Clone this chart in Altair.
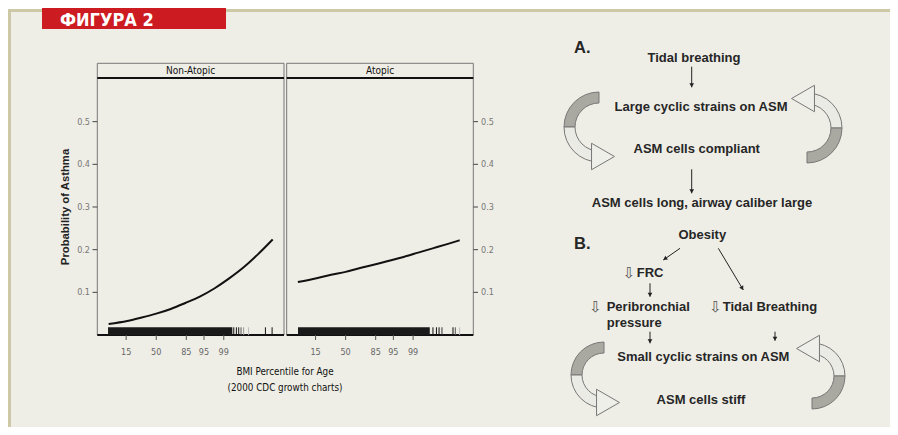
import math
import altair as alt
import pandas as pd

W, H = 882, 419

# ---------------- data ----------------
panels = ["Non-Atopic", "Atopic"]
# BMI z-score (x) and predicted probability of asthma (y)
z_na = [-1.64, -1.0, -0.5, 0.0, 0.5, 1.0, 1.5, 2.0, 2.5, 3.0, 3.5, 4.01]
p_na = [0.026, 0.033, 0.041, 0.050, 0.061, 0.075, 0.090, 0.109, 0.132, 0.158, 0.189, 0.224]
z_at = [-1.645, -1.0, -0.5, 0.0, 0.5, 1.0, 1.5, 2.0, 2.5, 3.0, 3.5, 3.93]
p_at = [0.124, 0.133, 0.141, 0.148, 0.157, 0.165, 0.174, 0.183, 0.193, 0.203, 0.213, 0.222]
# rug: dense band (start, end) and sparse individual ticks
rug_band_na = [-1.66, 2.62]
rug_ticks_na = [2.67, 2.76, 2.84, 2.92, 3.01, 3.18, 3.76, 3.99]
rug_shade_na = ["#111", "#111", "#111", "#555", "#999", "#bbb", "#111", "#111"]
rug_band_at = [-1.64, 2.90]
rug_ticks_at = [3.01, 3.13, 3.22, 3.32, 3.70, 3.78, 3.93]
rug_shade_at = ["#111", "#111", "#111", "#333", "#111", "#555", "#bbb"]
# x axis: BMI percentile labels at their z-score positions
x_tick_labels = ["15", "50", "85", "95", "99"]
x_tick_z = [-1.036, 0.0, 1.036, 1.645, 2.326]
y_tick_vals = [0.1, 0.2, 0.3, 0.4, 0.5]
y_tick_labels = ["0.1", "0.2", "0.3", "0.4", "0.5"]

# ---------------- layout ----------------
FONT_N = "Liberation Sans Narrow, DejaVu Sans Condensed, Liberation Sans, Arial"
FONT = "Liberation Sans, Arial"
DARK = "#262626"

X_DOM = [-2.03, 4.40]
Y_DOM = [0, 0.6023]
PANEL_X = {"Non-Atopic": (89.3, 276.0), "Atopic": (278.7, 465.3)}
STRIP_TOP, STRIP_BOT, PLOT_BOT = 55.3, 70.0, 327.0
SY = alt.Scale(domain=Y_DOM, range=[PLOT_BOT, STRIP_BOT], nice=False, zero=False)


def sx(panel):
    a, b = PANEL_X[panel]
    return alt.Scale(domain=X_DOM, range=[a, b], nice=False, zero=False)


def P(f):
    return alt.X(f, type="quantitative", scale=None, axis=None)


def Q(f):
    return alt.Y(f, type="quantitative", scale=None, axis=None)


layers = []

# background box
bg = pd.DataFrame({"x": [1.5], "y": [2.5], "x2": [W + 30], "y2": [H + 30]})
layers.append(alt.Chart(bg).mark_rect(fill="#efeee6", stroke="#cdc9a6", strokeWidth=3).encode(
    x=P("x"), y=Q("y"), x2="x2", y2="y2"))

# red header
hdr = pd.DataFrame({"x": [34], "y": [0], "x2": [218], "y2": [21]})
layers.append(alt.Chart(hdr).mark_rect(fill="#cc1b21").encode(x=P("x"), y=Q("y"), x2="x2", y2="y2"))
layers.append(alt.Chart(pd.DataFrame({"t": ["ФИГУРА 2"]})).mark_text(
    font=FONT_N, fontWeight="bold", fontSize=18, color="white", align="left", baseline="alphabetic"
).encode(x=alt.value(52), y=alt.value(18), text="t:N"))

# panel frames
frames = pd.DataFrame({
    "x": [PANEL_X[p][0] for p in panels], "x2": [PANEL_X[p][1] for p in panels],
    "y": [STRIP_TOP] * 2, "y2": [PLOT_BOT] * 2})
layers.append(alt.Chart(frames).mark_rect(fill=None, stroke="#777", strokeWidth=1).encode(
    x=P("x"), y=Q("y"), x2="x2", y2="y2"))
for yy in (STRIP_BOT, PLOT_BOT):
    fr = frames.assign(yy=yy)
    layers.append(alt.Chart(fr).mark_rule(color="#111", strokeWidth=2).encode(
        x=P("x"), x2="x2", y=Q("yy")))
strips = pd.DataFrame({"name": panels,
                       "x": [(PANEL_X[p][0] + PANEL_X[p][1]) / 2 for p in panels],
                       "y": [(STRIP_TOP + STRIP_BOT) / 2 + 0.5] * 2})
layers.append(alt.Chart(strips).mark_text(font=FONT_N, fontSize=10, color="#111", baseline="middle").encode(
    x=P("x"), y=Q("y"), text="name:N"))

# data per panel
for panel, zs, ps, band, rt, rs in [
    ("Non-Atopic", z_na, p_na, rug_band_na, rug_ticks_na, rug_shade_na),
    ("Atopic", z_at, p_at, rug_band_at, rug_ticks_at, rug_shade_at),
]:
    X = lambda f: alt.X(f, type="quantitative", scale=sx(panel), axis=None)
    curve = pd.DataFrame({"z": zs, "p": ps})
    layers.append(alt.Chart(curve).mark_line(color="#111", strokeWidth=2, interpolate="monotone").encode(
        x=X("z"), y=alt.Y("p:Q", scale=SY, axis=None)))
    layers.append(alt.Chart(pd.DataFrame({"z0": [band[0]], "z1": [band[1]]})).mark_rect(color="#1a1a1a").encode(
        x=X("z0"), x2="z1", y=alt.value(319.3), y2=alt.value(PLOT_BOT)))
    layers.append(alt.Chart(pd.DataFrame({"z": rt, "c": rs})).mark_rule(strokeWidth=1).encode(
        x=X("z"), y=alt.value(319.3), y2=alt.value(PLOT_BOT), color=alt.Color("c:N", scale=None)))
    ticks = pd.DataFrame({"z": x_tick_z, "lab": x_tick_labels})
    layers.append(alt.Chart(ticks).mark_rule(color="#555", strokeWidth=1).encode(
        x=X("z"), y=alt.value(PLOT_BOT), y2=alt.value(332)))
    layers.append(alt.Chart(ticks).mark_text(font=FONT_N, fontSize=9, color="#666", baseline="middle").encode(
        x=X("z"), y=alt.value(344), text="lab:N"))

# y axes (left of first panel, right of second)
yt = pd.DataFrame({"v": y_tick_vals, "lab": y_tick_labels})
layers.append(alt.Chart(yt).mark_rule(color="#444").encode(
    y=alt.Y("v:Q", scale=SY, axis=None), x=alt.value(84.5), x2=alt.value(89.3)))
layers.append(alt.Chart(yt).mark_text(font=FONT_N, fontSize=9, color="#777", align="right", baseline="middle").encode(
    y=alt.Y("v:Q", scale=SY, axis=None), x=alt.value(82), text="lab:N"))
layers.append(alt.Chart(yt).mark_rule(color="#444").encode(
    y=alt.Y("v:Q", scale=SY, axis=None), x=alt.value(465.3), x2=alt.value(470)))
layers.append(alt.Chart(yt).mark_text(font=FONT_N, fontSize=9, color="#777", align="left", baseline="middle").encode(
    y=alt.Y("v:Q", scale=SY, axis=None), x=alt.value(473), text="lab:N"))

# axis titles
layers.append(alt.Chart(pd.DataFrame({"t": ["Probability of Asthma"]})).mark_text(
    font=FONT, fontWeight="bold", fontSize=11.3, color="#222", angle=270, baseline="middle"
).encode(x=alt.value(58), y=alt.value(199), text="t:N"))
xt = pd.DataFrame({"t": ["BMI Percentile for Age", "(2000 CDC growth charts)"], "x": [277, 277], "y": [364, 380]})
layers.append(alt.Chart(xt).mark_text(font=FONT_N, fontSize=9.8, color="#111", baseline="middle").encode(
    x=P("x"), y=Q("y"), text="t:N"))

# ---------------- diagram ----------------
# ribbon arcs (centre, radii, angle span, fill)
pi = math.pi
arcs = pd.DataFrame([
    # A left: dark upper half, light lower half
    dict(cx=591, cy=119, r=35, r2=24, t0=1.5 * pi, t1=2 * pi, f="#a9a9a2"),
    dict(cx=591, cy=119, r=35, r2=24, t0=pi, t1=1.5 * pi, f="#ebebe5"),
    # A right: light upper, dark lower
    dict(cx=799, cy=120, r=35, r2=24, t0=0.0, t1=0.5 * pi, f="#ebebe5"),
    dict(cx=799, cy=120, r=35, r2=24, t0=0.5 * pi, t1=pi, f="#a9a9a2"),
    # B left
    dict(cx=596, cy=367, r=33, r2=22, t0=1.5 * pi, t1=2 * pi, f="#a9a9a2"),
    dict(cx=596, cy=367, r=33, r2=22, t0=pi, t1=1.5 * pi, f="#ebebe5"),
    # B right
    dict(cx=804, cy=368, r=33, r2=22, t0=0.0, t1=0.5 * pi, f="#ebebe5"),
    dict(cx=804, cy=368, r=33, r2=22, t0=0.5 * pi, t1=pi, f="#a9a9a2"),
])
layers.append(alt.Chart(arcs).mark_arc(stroke="#777", strokeWidth=1).encode(
    x=P("cx"), y=Q("cy"),
    theta=alt.Theta("t0:Q", scale=None), theta2="t1",
    radius=alt.Radius("r:Q", scale=None), radius2="r2",
    fill=alt.Fill("f:N", scale=None)))
heads = pd.DataFrame([
    dict(x=595, y=148.5, s="triangle-right"),
    dict(x=795, y=90.5, s="triangle-left"),
    dict(x=600, y=394.5, s="triangle-right"),
    dict(x=800, y=340.5, s="triangle-left"),
])
layers.append(alt.Chart(heads).mark_point(filled=True, fill="#efefe9", stroke="#777", strokeWidth=1,
                                          size=700, opacity=1).encode(
    x=P("x"), y=Q("y"), shape=alt.Shape("s:N", scale=None)))

# thin arrows
arrows = pd.DataFrame([
    dict(x1=683.7, y1=58.7, x2=683.7, y2=79.3),
    dict(x1=683.7, y1=161.3, x2=683.7, y2=185.3),
    dict(x1=672.0, y1=240.3, x2=655.3, y2=252.0),
    dict(x1=710.3, y1=240.3, x2=735.3, y2=282.0),
    dict(x1=642.0, y1=275.3, x2=642.0, y2=288.7),
    dict(x1=642.0, y1=323.7, x2=642.0, y2=335.3),
    dict(x1=767.0, y1=323.7, x2=767.0, y2=332.7),
])
dx = arrows.x2 - arrows.x1
dy = arrows.y2 - arrows.y1
ln = (dx ** 2 + dy ** 2) ** 0.5
arrows["hx"] = arrows.x2 - 2 * dx / ln
arrows["hy"] = arrows.y2 - 2 * dy / ln
arrows["ang"] = [math.degrees(math.atan2(a, -b)) % 360 for a, b in zip(dx, dy)]
layers.append(alt.Chart(arrows).mark_rule(color="#222", strokeWidth=1).encode(
    x=P("x1"), y=Q("y1"), x2="x2", y2="y2"))
layers.append(alt.Chart(arrows).mark_point(shape="triangle-up", filled=True, color="#222", size=22, opacity=1).encode(
    x=P("hx"), y=Q("hy"), angle=alt.Angle("ang:Q", scale=None)))

# diagram labels
labels_c = pd.DataFrame([
    dict(x=686.0, y=50.3, t="Tidal breathing"),
    dict(x=693.0, y=99.3, t="Large cyclic strains on ASM"),
    dict(x=688.7, y=141.3, t="ASM cells compliant"),
    dict(x=694.0, y=195.3, t="ASM cells long, airway caliber large"),
    dict(x=694.3, y=227.0, t="Obesity"),
    dict(x=695.3, y=348.7, t="Small cyclic strains on ASM"),
    dict(x=693.0, y=392.0, t="ASM cells stiff"),
])
layers.append(alt.Chart(labels_c).mark_text(font=FONT, fontWeight="bold", fontSize=13, color=DARK,
                                            baseline="middle").encode(x=P("x"), y=Q("y"), text="t:N"))
labels_l = pd.DataFrame([
    dict(x=628.7, y=265.3, t="FRC"),
    dict(x=598.7, y=299.3, t="Peribronchial"),
    dict(x=598.7, y=314.7, t="pressure"),
    dict(x=714.7, y=299.3, t="Tidal Breathing"),
])
layers.append(alt.Chart(labels_l).mark_text(font=FONT, fontWeight="bold", fontSize=13, color=DARK,
                                            align="left", baseline="middle").encode(x=P("x"), y=Q("y"), text="t:N"))
hollow = pd.DataFrame([dict(x=621.0, y=265.3), dict(x=587.5, y=299.3), dict(x=707.5, y=299.3)])
hollow["t"] = "⇩"
layers.append(alt.Chart(hollow).mark_text(font="DejaVu Sans", fontSize=15, color="#555",
                                          baseline="middle").encode(x=P("x"), y=Q("y"), text="t:N"))
big = pd.DataFrame([dict(x=566, y=40, t="A."), dict(x=566, y=236, t="B.")])
layers.append(alt.Chart(big).mark_text(font=FONT, fontWeight="bold", fontSize=16.5, color=DARK,
                                       align="left", baseline="middle").encode(x=P("x"), y=Q("y"), text="t:N"))

chart = alt.layer(*layers).resolve_scale(x="independent", y="independent").properties(
    width=W, height=H, autosize=alt.AutoSizeParams(type="none"), padding=0, background="white"
).configure_view(stroke=None)

chart.save("out.html", embed_options={"renderer": "svg", "actions": False})
